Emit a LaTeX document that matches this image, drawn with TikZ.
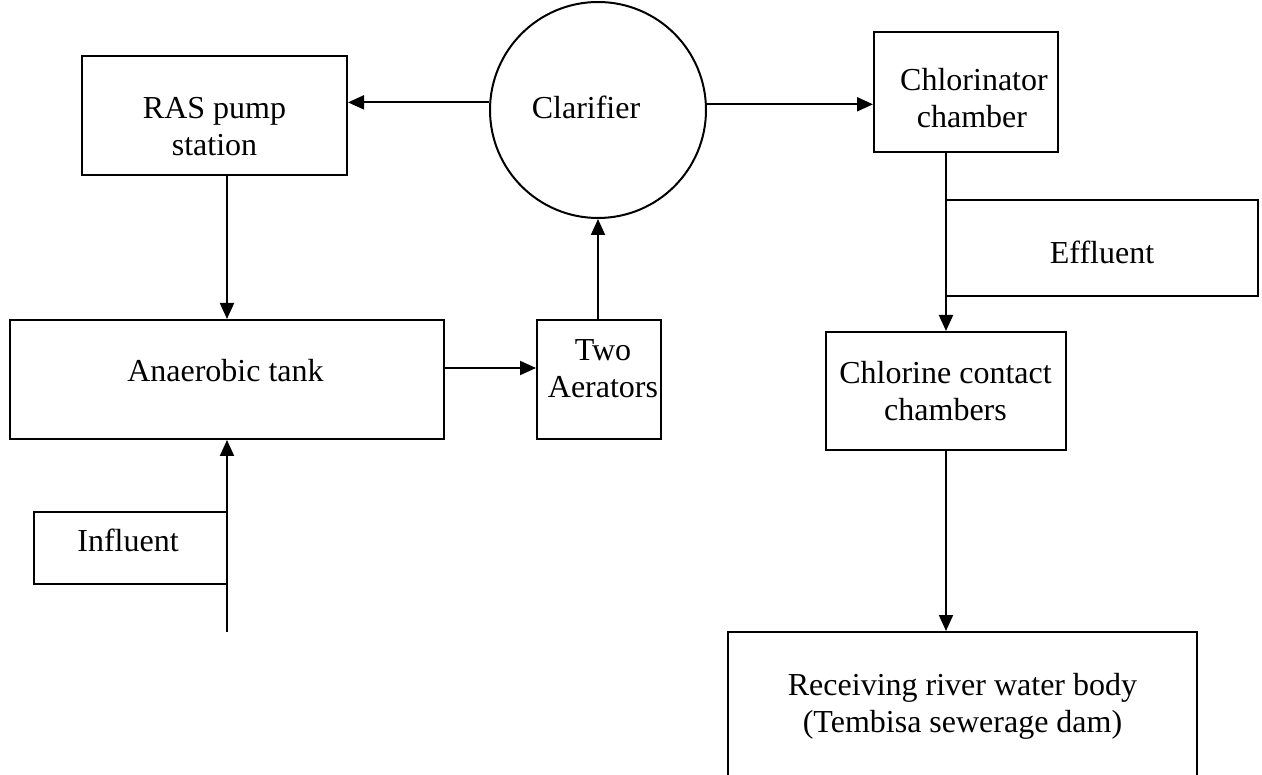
\documentclass[tikz,border=0pt]{standalone}
\usepackage{fontspec}
\setmainfont{Liberation Serif}
\usetikzlibrary{arrows.meta,calc}
\begin{document}
\begin{tikzpicture}[x=1pt,y=-1pt,
  box/.style={draw, rectangle, line width=2pt, inner sep=0pt},
  tank/.style={draw, circle, line width=2pt, inner sep=0pt},
  lbl/.style={anchor=base, inner sep=0pt, font=\fontsize{32}{37}\selectfont},
  flow/.style={line width=2pt, -{Triangle[length=16pt,width=14pt]}}]
\useasboundingbox (0,0) rectangle (1262,775);
\fill[white] (0,0) rectangle (1262,775);
\clip (0,0) rectangle (1262,775);

% units (centres and sizes keep every edge on a whole unit)
\node[box, minimum width=265pt, minimum height=119pt] (ras) at (214.5,115.5) {};
\node[tank, minimum size=216pt] (clar) at (598,110) {};
\node[box, minimum width=184pt, minimum height=120pt] (chl) at (966,92) {};
\node[box, minimum width=312pt, minimum height=96pt] (eff) at (1102,248) {};
\node[box, minimum width=434pt, minimum height=119pt] (ana) at (227,379.5) {};
\node[box, minimum width=124pt, minimum height=119pt] (aer) at (599,379.5) {};
\node[box, minimum width=240pt, minimum height=118pt] (ccc) at (946,391) {};
\node[box, minimum width=469pt, minimum height=188pt] (rcv) at (962.5,726) {};
\node[box, minimum width=193pt, minimum height=72pt] (infl) at (130.5,548) {};

% labels
\node[lbl] (rasA) at (214.5,119) {RAS pump};
\node[lbl] (rasB) at (214.5,156) {station};
\node[lbl] (clarT) at (586,119) {Clarifier};
\node[lbl] (chlA) at (974,91) {Chlorinator};
\node[lbl] (chlB) at (972,128) {chamber};
\node[lbl] (effT) at (1102,264) {Effluent};
\node[lbl] (anaT) at (225.5,382) {Anaerobic tank};
\node[lbl] (aerA) at (603,361) {Two};
\node[lbl] (aerB) at (603,398) {Aerators};
\node[lbl] (cccA) at (945.5,384) {Chlorine contact};
\node[lbl] (cccB) at (945.5,421) {chambers};
\node[lbl] (rcvA) at (962.5,695) {Receiving river water body};
\node[lbl] (rcvB) at (962.5,732) {(Tembisa sewerage dam)};
\node[lbl] (inflT) at (128,551) {Influent};

% flows
\coordinate (anaout) at ($(ana.east)+(0,-11.5)$);
\coordinate (infeed) at (227,632);
\draw[flow] (clar.176.8) -- (clar.176.8 -| ras.east);
\draw[flow] (clar.3.2) -- (clar.3.2 -| chl.west);
\draw[flow] (ana.north |- ras.south) -- (ana.north);
\draw[flow] (anaout) -- (anaout -| aer.west);
\draw[flow] (clar.south |- aer.north) -- (clar.south);
\draw[flow] (infeed) -- (ana.south);
\draw[flow] (ccc.north |- chl.south) -- (ccc.north);
\draw[flow] (ccc.south) -- (ccc.south |- rcv.north);
\end{tikzpicture}
\end{document}
